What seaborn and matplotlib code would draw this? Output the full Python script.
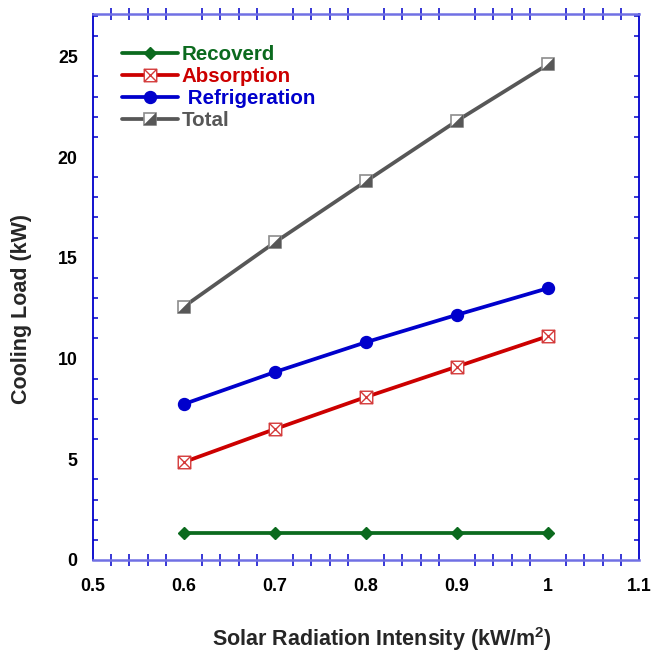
import numpy as np
import pandas as pd
import matplotlib
matplotlib.use("Agg")
import matplotlib.pyplot as plt
import seaborn as sns
from matplotlib.path import Path
from matplotlib.lines import Line2D
from matplotlib.ticker import MultipleLocator, FuncFormatter

# ---- data -------------------------------------------------------------
intensity = [0.6, 0.7, 0.8, 0.9, 1.0]
recoverd = [1.35, 1.35, 1.35, 1.35, 1.35]
absorption = [4.86, 6.50, 8.09, 9.60, 11.11]
refrigeration = [7.74, 9.33, 10.81, 12.17, 13.49]
total = [12.58, 15.77, 18.80, 21.80, 24.60]

labels = ["Recoverd", "Absorption", " Refrigeration", "Total"]
x_ticks = [0.5, 0.6, 0.7, 0.8, 0.9, 1.0, 1.1]
y_ticks = [0, 5, 10, 15, 20, 25]

df = pd.DataFrame({
    "intensity": intensity,
    "recoverd": recoverd,
    "absorption": absorption,
    "refrigeration": refrigeration,
    "total": total,
})

# ---- style ------------------------------------------------------------
sns.set_style("white")
plt.rcParams["font.family"] = ["Liberation Sans", "DejaVu Sans"]
plt.rcParams["font.weight"] = "bold"
plt.rcParams["mathtext.fontset"] = "custom"
plt.rcParams["mathtext.rm"] = "Liberation Sans:bold"
plt.rcParams["mathtext.bf"] = "Liberation Sans:bold"

green = "#0b6a1e"
red = "#cc0000"
red_edge = "#d43a3a"
blue = "#0000cc"
gray = "#575757"
gray_edge = "#8c8c8c"
lw = 2.7

# square with a cross inside
box_x = Path(
    [(-1, -1), (1, -1), (1, 1), (-1, 1), (-1, -1),
     (-1, -1), (1, 1), (-1, 1), (1, -1)],
    [Path.MOVETO, Path.LINETO, Path.LINETO, Path.LINETO, Path.CLOSEPOLY,
     Path.MOVETO, Path.LINETO, Path.MOVETO, Path.LINETO],
)
# lower-right half of a square
half_tri = Path(
    [(-1, -1), (1, -1), (1, 1), (-1, -1)],
    [Path.MOVETO, Path.LINETO, Path.LINETO, Path.CLOSEPOLY],
)

fig = plt.figure(figsize=(6.51, 6.54), dpi=100)
ax = fig.add_axes([93 / 651, 94 / 654, 546 / 651, 546 / 654])

sns.lineplot(data=df, x="intensity", y="recoverd", ax=ax, color=green, lw=lw,
             marker="D", markersize=6.3, markerfacecolor=green,
             markeredgecolor=green, markeredgewidth=1.0, zorder=3)
sns.lineplot(data=df, x="intensity", y="absorption", ax=ax, color=red, lw=lw,
             marker=box_x, markersize=9.0, markerfacecolor="white",
             markeredgecolor=red_edge, markeredgewidth=1.0, zorder=3)
sns.lineplot(data=df, x="intensity", y="refrigeration", ax=ax, color=blue, lw=lw,
             marker="o", markersize=8.6, markerfacecolor=blue,
             markeredgecolor=blue, markeredgewidth=1.0, zorder=3)
sns.lineplot(data=df, x="intensity", y="total", ax=ax, color=gray, lw=lw,
             marker="s", markersize=8.8, markerfacecolor="white",
             markeredgecolor=gray_edge, markeredgewidth=1.2, zorder=3)
sns.lineplot(data=df, x="intensity", y="total", ax=ax, color=gray,
             linestyle="none", marker=half_tri, markersize=8.8,
             markerfacecolor=gray, markeredgecolor=gray,
             markeredgewidth=0.3, zorder=4)

# ---- axes -------------------------------------------------------------
ax.set_xlim(0.5, 1.1)
ax.set_ylim(0, 27.1)
ax.set_xticks(x_ticks)
ax.set_yticks(y_ticks)
ax.xaxis.set_major_formatter(FuncFormatter(lambda v, p: f"{v:g}"))
ax.xaxis.set_minor_locator(MultipleLocator(0.02))
ax.yaxis.set_minor_locator(MultipleLocator(1))

ax.tick_params(axis="both", which="major", length=0, labelsize=12.8,
               labelcolor="black")
ax.tick_params(axis="x", which="major", pad=13)
ax.tick_params(axis="y", which="major", pad=11)
ax.tick_params(axis="x", which="minor", direction="inout", length=8,
               width=1.1, color=blue, top=True, bottom=True)
ax.tick_params(axis="y", which="minor", direction="in", length=3.8,
               width=1.1, color=blue, left=True, right=True)
for lab in ax.get_xticklabels() + ax.get_yticklabels():
    lab.set_fontweight("bold")

for side in ("left", "right"):
    ax.spines[side].set_color(blue)
    ax.spines[side].set_linewidth(1.3)
for side in ("top", "bottom"):
    ax.spines[side].set_color("#7070e4")
    ax.spines[side].set_linewidth(1.8)

ax.set_xlabel(r"Solar Radiation Intensity (kW/m$^{2}$)", fontsize=15.5,
              fontweight="bold")
ax.set_ylabel("Cooling Load (kW)", fontsize=15.5, fontweight="bold")
ax.xaxis.set_label_coords(0.529, -0.144)
ax.xaxis.label.set_verticalalignment("center")
ax.yaxis.set_label_coords(-0.1306, 0.46)
ax.yaxis.label.set_verticalalignment("center")

# ---- legend -----------------------------------------------------------
handles = [
    Line2D([], [], color=green, lw=lw, marker="D", markersize=6.3,
           markerfacecolor=green, markeredgecolor=green, markeredgewidth=1.0),
    Line2D([], [], color=red, lw=lw, marker=box_x, markersize=9.0,
           markerfacecolor="white", markeredgecolor=red_edge,
           markeredgewidth=1.0),
    Line2D([], [], color=blue, lw=lw, marker="o", markersize=8.6,
           markerfacecolor=blue, markeredgecolor=blue, markeredgewidth=1.0),
    (Line2D([], [], color=gray, lw=lw, marker="s", markersize=8.8,
            markerfacecolor="white", markeredgecolor=gray_edge,
            markeredgewidth=1.2),
     Line2D([], [], linestyle="none", marker=half_tri, markersize=8.8,
            markerfacecolor=gray, markeredgecolor=gray, markeredgewidth=0.3)),
]
leg = ax.legend(handles, labels, loc="upper left",
                bbox_to_anchor=(122 / 651, 1 - 45 / 654),
                bbox_transform=fig.transFigure, frameon=False,
                prop={"weight": "bold", "size": 14.8}, handlelength=2.7,
                handletextpad=0.2, labelspacing=0.15, borderpad=0,
                borderaxespad=0, numpoints=1)
for txt, c in zip(leg.get_texts(), [green, red, blue, gray]):
    txt.set_color(c)

fig.savefig("out.png", dpi=100)
